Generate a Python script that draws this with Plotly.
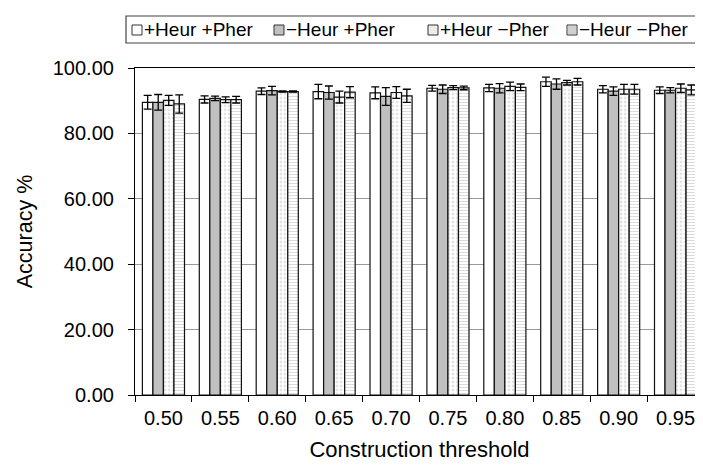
import plotly.graph_objects as go

thresholds = ["0.50", "0.55", "0.60", "0.65", "0.70", "0.75", "0.80", "0.85", "0.90", "0.95"]
series_names = ["+Heur +Pher", "\u2212Heur +Pher", "+Heur \u2212Pher", "\u2212Heur \u2212Pher"]

heur_pher = [89.5, 90.4, 92.9, 92.8, 92.4, 93.8, 93.9, 95.8, 93.5, 93.2]
noheur_pher = [89.5, 90.7, 93.1, 92.5, 91.3, 93.5, 93.8, 95.1, 92.9, 93.2]
heur_nopher = [90.1, 90.3, 92.8, 91.1, 92.5, 94.0, 94.4, 95.5, 93.5, 93.8]
noheur_nopher = [89.0, 90.3, 92.8, 92.6, 91.5, 93.9, 94.1, 95.8, 93.5, 93.3]

err_heur_pher = [2.1, 1.1, 1.0, 2.2, 1.8, 0.9, 1.1, 1.4, 1.1, 1.0]
err_noheur_pher = [2.4, 0.7, 1.3, 2.0, 2.7, 1.3, 1.4, 1.6, 1.3, 0.8]
err_heur_nopher = [1.5, 0.9, 0.2, 1.8, 1.8, 0.6, 1.3, 0.7, 1.5, 1.3]
err_noheur_nopher = [2.8, 1.0, 0.2, 1.7, 2.0, 0.55, 1.0, 1.0, 1.5, 1.5]

y_ticks = [0, 20, 40, 60, 80, 100]

values = [heur_pher, noheur_pher, heur_nopher, noheur_nopher]
errors = [err_heur_pher, err_noheur_pher, err_heur_nopher, err_noheur_nopher]
fills = ["white", "#c0c0c0", "white", "white"]
patterns = [None, None, dict(shape=".", fgcolor="#c8c8c8", bgcolor="white", size=4, solidity=0.4),
            dict(shape="-", fgcolor="#b8b8b8", bgcolor="white", size=3, solidity=0.35)]

FONT = "Liberation Sans, Arial, sans-serif"

fig = go.Figure()
for name, v, e, c, p in zip(series_names, values, errors, fills, patterns):
    marker = dict(color=c, line=dict(color="#111111", width=1.2))
    if p is not None:
        marker["pattern"] = p
    fig.add_trace(go.Bar(
        x=thresholds, y=v, name=name, marker=marker,
        error_y=dict(type="data", array=e, visible=True, color="black", thickness=1.3, width=4),
        showlegend=False,
    ))

W, H = 703, 468
L, R, T, B = 127, 7, 60, 81
pw, ph = W - L - R, H - T - B

def px(x):
    return (x - L) / pw

def py(y):
    return (H - B - y) / ph

shapes = []
annotations = []
# legend box
shapes.append(dict(type="rect", xref="paper", yref="paper", x0=px(118), x1=px(708), y0=py(35), y1=py(8),
                   line=dict(color="#444444", width=1.2), fillcolor="white", layer="above"))
sq_left = [124, 266, 420, 559]
sq_size = 10
sq_top = 17
for i, (name, xl) in enumerate(zip(series_names, sq_left)):
    fill = "#c0c0c0" if i == 1 else ("#ececec" if i == 2 else "white")
    shapes.append(dict(type="rect", xref="paper", yref="paper", x0=px(xl), x1=px(xl + sq_size),
                       y0=py(sq_top + sq_size), y1=py(sq_top), fillcolor=fill,
                       line=dict(color="#333333", width=1), layer="above"))
    if i == 3:
        for k in range(1, 5):
            yy = sq_top + k * 2
            shapes.append(dict(type="line", xref="paper", yref="paper", x0=px(xl + 1), x1=px(xl + sq_size - 1),
                               y0=py(yy), y1=py(yy), line=dict(color="#a0a0a0", width=1), layer="above"))
    annotations.append(dict(xref="paper", yref="paper", x=px(xl + sq_size + 1), y=py(22), text=name,
                            showarrow=False, xanchor="left", yanchor="middle", borderpad=0,
                            font=dict(family=FONT, size=19, color="black")))

fig.update_layout(
    width=W, height=H,
    margin=dict(l=L, r=R, t=T, b=B, autoexpand=False),
    paper_bgcolor="white", plot_bgcolor="white",
    barmode="group", bargap=0.26, bargroupgap=0.0,
    font=dict(family=FONT, size=20, color="black"),
    shapes=shapes, annotations=annotations,
    showlegend=False,
)
fig.update_xaxes(
    type="category", tickson="boundaries", ticks="outside", ticklen=6, tickcolor="black",
    showline=True, linecolor="black", linewidth=1.2, mirror=True,
    tickfont=dict(family=FONT, size=20), ticklabelstandoff=5,
    title=dict(text="Construction threshold", font=dict(family=FONT, size=22), standoff=13),
    showgrid=False, automargin=False,
)
fig.update_yaxes(
    range=[0, 100], tickvals=y_ticks, ticktext=[f"{t:.2f}" for t in y_ticks],
    ticks="outside", ticklen=6, tickcolor="black",
    showline=True, linecolor="black", linewidth=1.2, mirror=True,
    showgrid=True, gridcolor="#9a9a9a", gridwidth=1,
    tickfont=dict(family=FONT, size=20), ticklabelstandoff=10,
    title=dict(text="Accuracy %", font=dict(family=FONT, size=21.5), standoff=14),
    zeroline=False, automargin=False,
)

fig.write_html("out.html")
